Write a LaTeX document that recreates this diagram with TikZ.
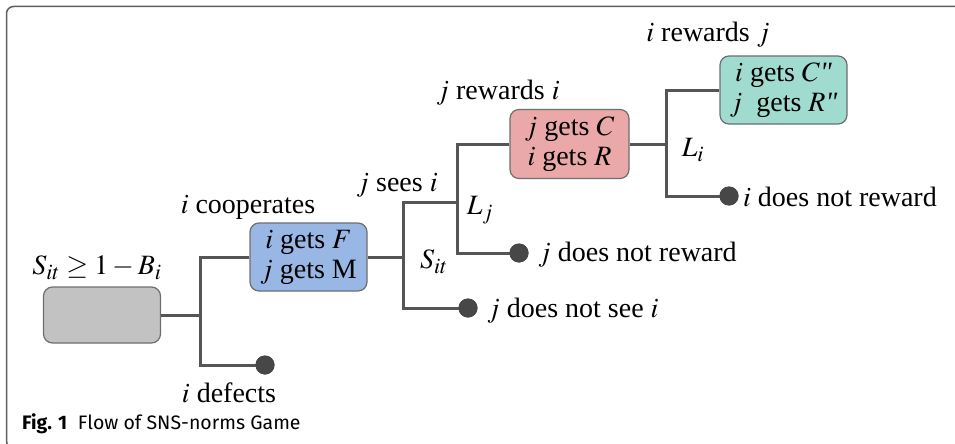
\documentclass[tikz,border=0pt]{standalone}
\usepackage{mathptmx}
\usepackage[no-math]{fontspec}
\setmainfont{Liberation Serif}
\newfontfamily\capfont{Fira Sans}
\newfontfamily\qfont{Liberation Serif}[Ligatures=TeXOff]
\DeclareMathSizes{28}{28}{22}{16}
\definecolor{linec}{HTML}{555555}
\definecolor{dotc}{HTML}{474747}
\definecolor{framec}{HTML}{5E5E5E}
\definecolor{boxdraw}{HTML}{6E6E6E}
\definecolor{rootfill}{HTML}{C2C2C2}
\definecolor{coopfill}{HTML}{98B7E5}
\definecolor{rewfill}{HTML}{EBA8A8}
\definecolor{backfill}{HTML}{A0DBCF}
\newcommand{\lblfont}{\fontsize{28}{30}\selectfont}
\newcommand{\dq}{{\qfont\itshape\symbol{34}}}
\begin{document}
\begin{tikzpicture}[x=1pt,y=-1pt,
  conn/.style={draw=linec,line width=3pt},
  box/.style={rounded corners=9pt,line width=1.2pt,draw=boxdraw,align=center,inner sep=0pt,font=\lblfont},
  leaf/.style={circle,fill=dotc,minimum size=19pt,inner sep=0pt},
  lbl/.style={font=\lblfont,inner sep=0pt}]
\useasboundingbox (0,0) rectangle (955,444);

% outer frame
\draw[framec,line width=1.5pt,rounded corners=7pt] (980,6.5) -- (6.5,6.5) -- (6.5,448) -- (40,448);

% decision boxes
\node[box,fill=rootfill,minimum width=117pt,minimum height=56pt] (root) at (102,315) {};
\node[box,fill=coopfill,minimum width=117pt,minimum height=68pt] (coop) at (308.5,257) {$i$ gets $F$\\$j$ gets M};
\node[box,fill=rewfill,minimum width=119pt,minimum height=69pt] (rew) at (569.5,144) {$j$ gets $C$\\$i$ gets $R$};
\node[box,fill=backfill,minimum width=127pt,minimum height=68pt] (back) at (783.5,90) {$i$ gets $C$\dq\\$j$\ \ gets $R$\dq};

% branching points
\coordinate (f1) at (200,315);
\coordinate (f2) at (403,257);
\coordinate (f3) at (457,202);
\coordinate (f4) at (666,144);

% terminal outcomes
\node[leaf] (d1) at (265,365) {};
\node[leaf] (d2) at (468,308) {};
\node[leaf] (d3) at (519,253) {};
\node[leaf] (d4) at (729,196) {};

% connectors
\draw[conn] (root.east) -- (f1);
\draw[conn] (coop.west) -| (f1) |- (d1.center);
\draw[conn] (coop.east) -- (f2);
\draw[conn] (f3) -| (f2) |- (d2.center);
\draw[conn] (rew.west) -| (f3) |- (d3.center);
\draw[conn] (rew.east) -- (f4);
\draw[conn] (back.west) -| (f4) |- (d4.center);
\node[leaf] at (d1) {};
\node[leaf] at (d2) {};
\node[leaf] at (d3) {};
\node[leaf] at (d4) {};

% labels
\node[lbl] (lroot) at (97,268) {$S_{it} \geq 1 - B_i$};
\node[lbl] (lcoop) at (248,207) {$i$ cooperates};
\node[lbl] (ldef) at (229,393) {$i$ defects};
\node[lbl] (lsees) at (397,185) {$j$ sees $i$};
\node[lbl] (lsit) at (434,262) {$S_{it}$};
\node[lbl] (lnotsee) [anchor=west] at (487,311) {$j$ does not see $i$};
\node[lbl] (llj) at (480,210) {$L_j$};
\node[lbl] (ljrew) at (498,93) {$j$ rewards $i$};
\node[lbl] (ljnot) [anchor=west] at (538,255) {$j$ does not reward};
\node[lbl] (lli) at (693,150) {$L_i$};
\node[lbl] (lirew) at (708,35) {$i$ rewards $j$};
\node[lbl] (linot) [anchor=west] at (743,197) {$i$ does not reward};

% caption
\node[anchor=base west,inner sep=0pt] (cap) at (22,429) {\capfont\fontsize{19.5}{22}\selectfont\textbf{Fig. 1}\hspace{0.55em}Flow of SNS-norms Game};
\end{tikzpicture}
\end{document}
